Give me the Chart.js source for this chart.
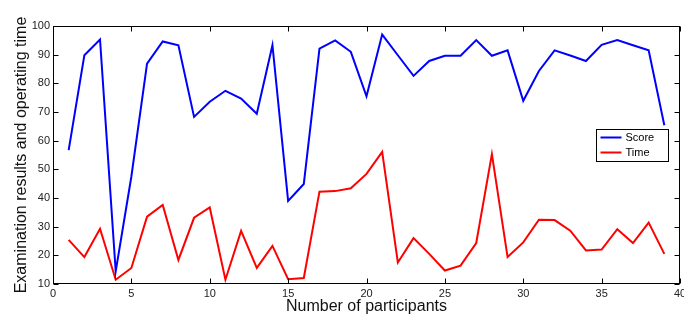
<!DOCTYPE html>
<html>
<head>
<meta charset="utf-8">
<script src="https://cdn.jsdelivr.net/npm/chart.js@4/dist/chart.umd.min.js"></script>
<style>
html,body{margin:0;padding:0;background:#fff;}
#wrap{width:684px;height:320px;position:relative;}
</style>
</head>
<body>
<div id="wrap"><canvas id="c" width="684" height="320"></canvas></div>
<script>
const participants = [1,2,3,4,5,6,7,8,9,10,11,12,13,14,15,16,17,18,19,20,21,22,23,24,25,26,27,28,29,30,31,32,33,34,35,36,37,38,39];
const scoreValues = [56.7,89.8,95.3,14.4,47.5,86.9,94.6,93.3,68.3,73.6,77.4,74.7,69.4,93.3,39.0,44.9,92.1,95.0,91.0,75.5,97.0,89.8,82.6,87.8,89.6,89.6,95.1,89.6,91.5,73.9,84.3,91.5,89.7,87.8,93.4,95.1,93.3,91.5,65.4];
const timeValues = [25.4,19.4,29.3,11.5,15.6,33.5,37.6,18.4,33.1,36.7,11.5,28.5,15.6,23.3,11.7,12.1,42.2,42.4,43.4,48.4,56.1,17.5,26.0,20.5,14.7,16.4,24.3,55.3,19.4,24.5,32.4,32.3,28.6,21.7,22.0,29.1,24.3,31.4,20.5];
const seriesNames = ["Score","Time"];
const xTitle = "Number of participants";
const yTitle = "Examination results and operating time";

const FONT = "'Liberation Sans', Arial, Helvetica, sans-serif";

const boxTicks = {
  id:'boxTicks',
  afterDatasetsDraw(chart){
    const ctx = chart.ctx, a = chart.chartArea;
    const xs = chart.scales.x, ys = chart.scales.y;
    ctx.save();
    ctx.strokeStyle = '#000';
    ctx.lineWidth = 1;
    const L = Math.round(a.left)+0.5, R = Math.round(a.right)-0.5, T = Math.round(a.top)+0.5, B = Math.round(a.bottom)-0.5;
    ctx.strokeRect(L, T, R-L, B-T);
    const tl = 5;
    ctx.beginPath();
    xs.ticks.forEach(t=>{
      const px = Math.round(xs.getPixelForValue(t.value))+0.5;
      ctx.moveTo(px,B); ctx.lineTo(px,B-tl);
      ctx.moveTo(px,T); ctx.lineTo(px,T+tl);
    });
    ys.ticks.forEach(t=>{
      const py = Math.round(ys.getPixelForValue(t.value))+0.5;
      ctx.moveTo(L,py); ctx.lineTo(L+tl,py);
      ctx.moveTo(R,py); ctx.lineTo(R-tl,py);
    });
    ctx.stroke();
    // legend
    const bx = 596.5, by = 129.5, bw = 72, bh = 32;
    ctx.fillStyle = '#fff';
    ctx.fillRect(bx,by,bw,bh);
    ctx.strokeRect(bx,by,bw,bh);
    ctx.font = "11px " + FONT;
    ctx.textBaseline = 'middle';
    chart.data.datasets.forEach((ds,i)=>{
      const y = by + 8 + i*15;
      ctx.strokeStyle = ds.borderColor;
      ctx.lineWidth = 2;
      ctx.beginPath(); ctx.moveTo(bx+4,y); ctx.lineTo(bx+25,y); ctx.stroke();
      ctx.fillStyle = '#000';
      ctx.fillText(ds.label, bx+29, y+0.5);
    });
    ctx.restore();
  }
};

new Chart(document.getElementById('c'), {
  type:'line',
  data:{
    labels: participants,
    datasets:[
      {label:seriesNames[0], data:participants.map((p,i)=>({x:p,y:scoreValues[i]})), borderColor:'#0000ff', borderWidth:2, pointRadius:0, tension:0, fill:false},
      {label:seriesNames[1], data:participants.map((p,i)=>({x:p,y:timeValues[i]})), borderColor:'#ff0000', borderWidth:2, pointRadius:0, tension:0, fill:false}
    ]
  },
  options:{
    responsive:false,
    animation:false,
    events:[],
    layout:{padding:{top:26,right:4,bottom:0,left:0}},
    plugins:{legend:{display:false},tooltip:{enabled:false}},
    scales:{
      x:{
        type:'linear', min:0, max:40,
        ticks:{stepSize:5, color:'#222', font:{family:FONT,size:11}, padding:3, maxRotation:0, autoSkip:false},
        grid:{display:false, drawTicks:false}, border:{display:false},
        title:{display:true, text:xTitle, color:'#111', font:{family:FONT,size:16}, padding:{top:0,bottom:4}},
        afterFit(s){ s.height = 36; s.paddingLeft = 0; s.paddingRight = 0; }
      },
      y:{
        min:10, max:100,
        ticks:{stepSize:10, color:'#222', font:{family:FONT,size:11}, padding:3},
        grid:{display:false, drawTicks:false}, border:{display:false},
        title:{display:true, text:yTitle, color:'#111', font:{family:FONT,size:16}, padding:{top:12,bottom:0}},
        afterFit(s){ s.width = 53; s.paddingTop = 0; s.paddingBottom = 0; }
      }
    }
  },
  plugins:[boxTicks]
});
</script>
</body>
</html>
